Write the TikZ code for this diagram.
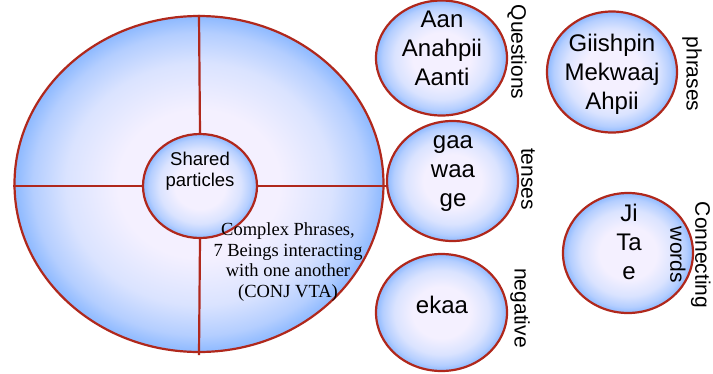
\documentclass[tikz,border=0pt]{standalone}
\usepackage{fontspec}
\setmainfont{Liberation Sans}
\newfontfamily\timesfont{Liberation Serif}
\usetikzlibrary{shapes.geometric}
\definecolor{rimred}{HTML}{B0281C}
\definecolor{bubbleblue}{HTML}{8DB9FF}
\definecolor{bubblemid}{HTML}{B4CEFF}
\definecolor{bubblepale}{HTML}{DAE3FF}
\definecolor{bubblecore}{HTML}{F4F0FF}
\pgfdeclareradialshading{bubbleshade}{\pgfpoint{0bp}{0bp}}{%
	color(0bp)=(bubblecore); color(11bp)=(bubblecore); color(18bp)=(bubblepale);
	color(22.5bp)=(bubblemid); color(25bp)=(bubbleblue); color(50bp)=(bubbleblue)}

\begin{document}
\begin{tikzpicture}[
			x=1pt, y=-1pt,
			font=\fontsize{24}{29}\selectfont,
			bubble/.style={
				ellipse,
				draw=rimred,
				line width=2.2pt,
				inner sep=0pt,
				shading=bubbleshade,
				minimum width=131pt,
				minimum height=118pt
			},
			words/.style={
				align=center,
				inner sep=0pt
			},
			side/.style={
				rotate=-90,
				align=center,
				inner sep=0pt,
				font=\fontsize{21}{25}\selectfont
			},
			divider/.style={
				draw=rimred,
				line width=2.2pt
			}
			]
			\useasboundingbox (0,0) rectangle (713,373);
			
			% the big circle and its quarters
			\node [bubble, minimum width=369pt, minimum height=336pt] (whole) at (199,184) {};
			\node [bubble, minimum width=114pt, minimum height=104pt] (shared) at (200,186) {};
			\draw [divider] (whole.north) -- (shared.north);
			\draw [divider] (shared.south) -- ([yshift=-2pt]whole.south);
			\draw [divider] (whole.west |- shared.west) -- (shared.west);
			\draw [divider] (shared.east) -- ([xshift=2pt]whole.east |- shared.east);
			\node [words, font=\fontsize{18.5}{21}\selectfont] (sharedtext) at (200,171) {Shared\\particles};
			\node [words, font=\timesfont\fontsize{18.5}{20.7}\selectfont] (complex) at (288,262)
			{Complex Phrases,\\7 Beings interacting\\with one another\\(CONJ VTA)};
			
			% the small circles
			\node [bubble, minimum height=115pt] (questions) at (441.5,58) {};
			\node [words] (questionstext) at (442,48) {Aan\\Anahpii\\Aanti};
			\node [side] (questionslabel) at (517,52) {Questions};
			
			\node [bubble, minimum width=130pt, minimum height=121pt] (phrases) at (612,72) {};
			\node [words] (phrasestext) at (612,74) {Giishpin\\Mekwaaj\\Ahpii};
			\node [side] (phraseslabel) at (692,74) {phrases};
			
			\node [bubble, minimum height=120pt] (tenses) at (452.5,181) {};
			\node [words] (tensestext) at (453,174) {gaa\\waa\\ge};
			\node [side] (tenseslabel) at (528,179) {tenses};
			
			\node [bubble, minimum height=117pt] (negative) at (441.5,312.5) {};
			\node [words] (negativetext) at (442,305) {ekaa};
			\node [side] (negativelabel) at (520,308) {negative};
			
			\node [bubble, minimum width=130pt, minimum height=120pt] (connecting) at (628,253) {};
			\node [words] (connectingtext) at (629,242) {Ji\\Ta\\e};
			\node [side] (connectinglabel) at (690.5,255) {Connecting\\words};
			
			\end{tikzpicture}
\end{document}
